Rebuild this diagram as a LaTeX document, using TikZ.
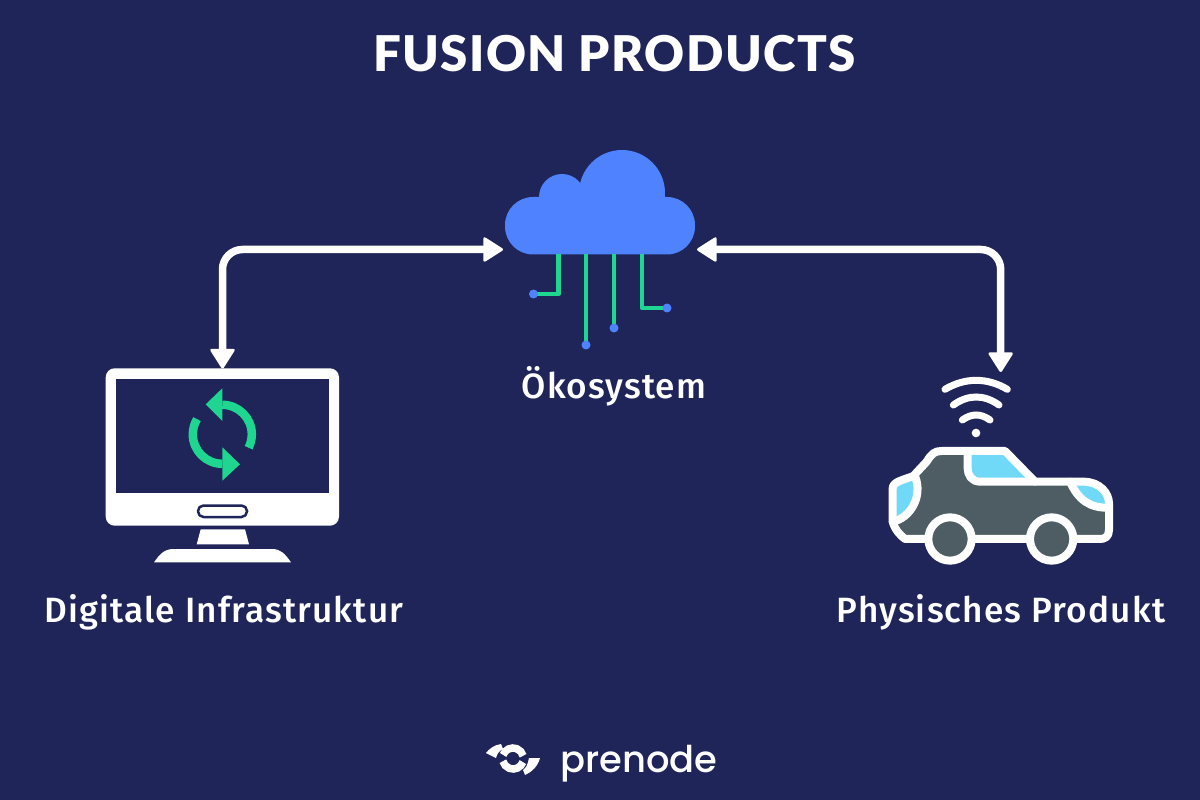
\documentclass[tikz,border=0pt]{standalone}
\usepackage{fontspec}
\usetikzlibrary{arrows.meta, calc, positioning}
\setmainfont{Fira Sans}
\newfontfamily\titlefont[LetterSpace=3]{Lato Black}
\newfontfamily\labelfont[LetterSpace=3.3]{Fira Sans Medium}
\newfontfamily\logofont{Poppins Medium}
\definecolor{navybg}{HTML}{1F2459}
\definecolor{cloudblue}{HTML}{4F82FF}
\definecolor{wiregreen}{HTML}{1ED68F}
\definecolor{carbody}{HTML}{4D5D63}
\definecolor{glassblue}{HTML}{70D9F7}
\tikzset{
  link/.style={white, line width=0.15cm, rounded corners=0.4cm,
    {Triangle[length=0.42cm, width=0.52cm, line width=1.6pt, round]}-{Triangle[length=0.42cm, width=0.52cm, line width=1.6pt, round]}},
  wire/.style={wiregreen, line width=0.09cm, line join=round},
  pin/.style={cloudblue, radius=4.5},
  caption/.style={white, font=\labelfont\fontsize{20}{23}\selectfont},
  carline/.style={white, line width=0.16cm, line join=round, line cap=round},
  wave/.style={white, line width=0.14cm, line cap=round}
}
\begin{document}
\begin{tikzpicture}[x=0.02cm, y=0.02cm, yscale=-1]
  \useasboundingbox (0,0) rectangle (1200,800);
  \fill[navybg] (0,0) rectangle (1200,800);
  % title
  \node[white, font=\titlefont\fontsize{28}{33}\selectfont] (title) at (614.5,54) {FUSION PRODUCTS};
  % cloud
  \fill[cloudblue] (622,193) circle (43);
  \fill[cloudblue] (562,197) circle (23);
  \fill[cloudblue, rounded corners=0.56cm] (505,197) rectangle (695,254.5);
  \fill[cloudblue] (562,197) rectangle (665,230);
  % wires under the cloud
  \draw[wire] (558.7,254) -- (558.7,294) -- (533.5,294);
  \draw[wire] (586,254) -- (586,345);
  \draw[wire] (614,254) -- (614,328);
  \draw[wire] (642,254) -- (642,308) -- (667,308);
  \foreach \px/\py in {533.5/294, 586/345, 614/328, 667/308} {
    \fill[pin] (\px,\py) circle;
  }
  \node[caption] (cloudlabel) at (614,386) {Ökosystem};
  % monitor
  \fill[white, rounded corners=0.18cm] (105.7,368.3) rectangle (339,525.7);
  \fill[navybg] (115.7,379) rectangle (329.3,493.3);
  \draw[navybg, fill=white, line width=0.05cm, rounded corners=0.11cm] (198,505.5) rectangle (247,517);
  \fill[white] (200.7,529.3) -- (245,529.3) -- (249,544.3) -- (196.7,544.3) -- cycle;
  \fill[white] (154,562.3) .. controls (160,554) and (164,549) .. (174,549) -- (272,549) .. controls (281,549) and (285,554) .. (291,562.3) -- cycle;
  % sync arrows
  \draw[wiregreen, line width=0.17cm] (222.3,404.8) arc[start angle=-90, end angle=27, radius=29.5];
  \fill[wiregreen] (205.7,404.3) -- (222.3,388.3) -- (222.3,421) -- cycle;
  \draw[wiregreen, line width=0.17cm] (222.3,463.8) arc[start angle=90, end angle=211, radius=29.5];
  \fill[wiregreen] (240,464.3) -- (222.3,447.3) -- (222.3,480.7) -- cycle;
  \node[caption] (monitorlabel) at (224,612) {Digitale Infrastruktur};
  % car, in its own small grid
  \begin{scope}[shift={(870,340)}, x=0.00667cm, y=0.00667cm]
    \fill[carbody] (68,545) -- (68,445) .. controls (68,425) and (100,420) .. (130,408) -- (170,365) .. controls (185,340) and (195,333) .. (215,333) -- (405,333) -- (495,425) -- (640,425) .. controls (690,425) and (717,460) .. (717,490) -- (717,570) .. controls (717,590) and (705,597) .. (690,597) -- (105,597) .. controls (90,585) and (75,570) .. (68,545) -- cycle;
    \fill[glassblue] (293,333) -- (405,333) -- (495,425) -- (330,425) .. controls (305,425) and (293,405) .. (293,385) -- cycle;
    \fill[glassblue] (68,545) -- (68,445) .. controls (68,425) and (100,420) .. (135,408) .. controls (160,470) and (120,535) .. (68,545) -- cycle;
    \fill[glassblue] (600,425) -- (640,425) .. controls (690,425) and (717,460) .. (717,503) .. controls (660,505) and (625,480) .. (600,425) -- cycle;
    \draw[carline] (68,545) -- (68,445) .. controls (68,425) and (100,420) .. (130,408) -- (170,365) .. controls (185,340) and (195,333) .. (215,333) -- (405,333) -- (495,425) -- (640,425) .. controls (690,425) and (717,460) .. (717,490) -- (717,570) .. controls (717,590) and (705,597) .. (690,597) -- (105,597) .. controls (90,585) and (75,570) .. (68,545) -- cycle;
    \draw[carline] (293,333) -- (293,385) .. controls (293,405) and (305,425) .. (330,425) -- (495,425);
    \draw[carline] (135,408) .. controls (160,470) and (120,535) .. (68,545);
    \draw[carline] (600,425) .. controls (625,480) and (660,505) .. (717,503);
    \foreach \wx in {240,545} {
      \draw[white, fill=carbody, line width=0.16cm] (\wx,597) circle (65);
    }
    % wifi
    \draw[wave] (225,148) .. controls (285,112) and (352,112) .. (412,148);
    \draw[wave] (250,195) .. controls (295,163) and (342,163) .. (387,195);
    \draw[wave] (277,240) .. controls (305,220) and (332,220) .. (360,240);
    \fill[white] (318,279) circle (13);
  \end{scope}
  \node[caption] (carlabel) at (1001,612) {Physisches Produkt};
  % connectors
  \coordinate (cloudwest) at (503,249.5);
  \coordinate (cloudeast) at (697,249.5);
  \coordinate (monitortop) at (222.5,368.5);
  \coordinate (cartop) at (1000.7,372);
  \draw[link] (monitortop) |- (cloudwest);
  \draw[link] (cartop) |- (cloudeast);
  % logo
  \draw[white, line width=0.15cm] (503.1,754.9) arc[start angle=-160, end angle=-15, radius=10.5];
  \draw[white, line width=0.15cm] (522.9,762.1) arc[start angle=20, end angle=165, radius=10.5];
  \fill[white] (486,753) .. controls (489,749) and (494,745) .. (501,744) -- (503,749) .. controls (499,751) and (497,754) .. (496,758) -- cycle;
  \fill[white] (540,758) .. controls (538,766) and (532,772) .. (525,775) -- (523,770) .. controls (526,768) and (528,764) .. (529,758) -- cycle;
  \node[white, anchor=base west, font=\logofont\fontsize{21}{25}\selectfont] (logotext) at (554,772) {prenode};
\end{tikzpicture}
\end{document}
